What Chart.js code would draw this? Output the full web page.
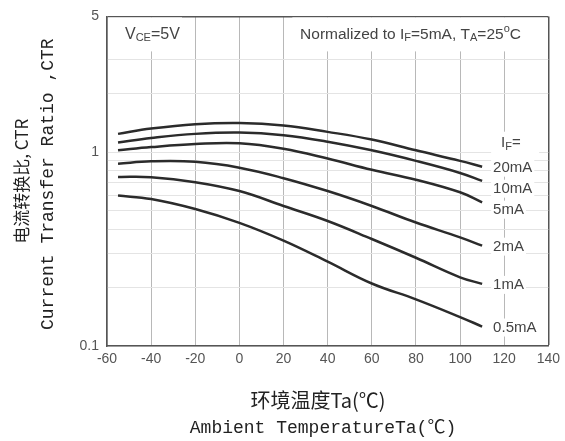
<!DOCTYPE html>
<html>
<head>
<meta charset="utf-8">
<script src="https://cdn.jsdelivr.net/npm/chart.js@4.4.1/dist/chart.umd.min.js"></script>
<style>
  html, body { margin: 0; padding: 0; background: #fff; }
  #wrap { width: 565px; height: 441px; }
</style>
</head>
<body>
<div id="wrap"><canvas id="ctrChart" width="565" height="441"></canvas></div>
<script>
// ambient temperature (°C) where each curve was read
var temps = [-55, -40, -20, 0, 20, 40, 60, 80, 100, 110];

// relative CTR, normalized to IF=5mA, TA=25°C
var ctr20mA  = [1.24, 1.32, 1.39, 1.41, 1.37, 1.27, 1.16, 1.02, 0.90, 0.84];
var ctr10mA  = [1.12, 1.18, 1.24, 1.26, 1.22, 1.13, 1.02, 0.90, 0.78, 0.71];
var ctr5mA   = [1.02, 1.06, 1.10, 1.11, 1.04, 0.925, 0.81, 0.72, 0.62, 0.55];
var ctr2mA   = [0.87, 0.895, 0.89, 0.83, 0.733, 0.629, 0.527, 0.433, 0.363, 0.329];
var ctr1mA   = [0.744, 0.741, 0.699, 0.629, 0.527, 0.441, 0.356, 0.285, 0.226, 0.209];
var ctr05mA  = [0.596, 0.572, 0.508, 0.431, 0.349, 0.272, 0.210, 0.174, 0.141, 0.126];

var seriesNames = ['20mA', '10mA', '5mA', '2mA', '1mA', '0.5mA'];
var seriesValues = [ctr20mA, ctr10mA, ctr5mA, ctr2mA, ctr1mA, ctr05mA];

var xTicks = [-60, -40, -20, 0, 20, 40, 60, 80, 100, 120, 140];
var yTicks = [0.1, 0.2, 0.3, 0.4, 0.5, 0.6, 0.7, 0.8, 0.9, 1, 2, 3, 5];
var yTickLabels = ['0.1', '1', '5'];

var FRAME = '#555';
var SANS = '"Liberation Sans", Arial, sans-serif';

function drawParts(ctx, parts, x, y, size) {
  // parts: [text, 'sub'|'sup'|undefined]
  ctx.textBaseline = 'middle';
  ctx.textAlign = 'left';
  parts.forEach(function(p) {
    var small = p[1] ? Math.round(size * 0.7) : size;
    ctx.font = small + 'px ' + SANS;
    var dy = p[1] === 'sub' ? 4 : p[1] === 'sup' ? -5 : 0;
    ctx.fillText(p[0], x, y + dy);
    x += ctx.measureText(p[0]).width;
  });
  return x;
}

var notes = {
  id: 'notes',
  beforeDatasetsDraw: function(chart) {
    var ctx = chart.ctx, a = chart.chartArea;
    var xs = chart.scales.x;
    ctx.save();
    // white boxes behind the two header notes
    ctx.fillStyle = '#fff';
    ctx.fillRect(a.left + 1, a.top + 1, 74, 34);
    ctx.fillRect(xs.getPixelForValue(24), a.top + 1, a.right - xs.getPixelForValue(24) - 1, 34);
    ctx.fillStyle = '#444';
    drawParts(ctx, [['V'], ['CE', 'sub'], ['=5V']], a.left + 18, a.top + 18, 16);
    drawParts(ctx, [['Normalized to I'], ['F', 'sub'], ['=5mA, T'], ['A', 'sub'], ['=25'], ['o', 'sup'], ['C']],
      xs.getPixelForValue(27.5), a.top + 18, 15.5);

    // curve labels at the right-hand end of each curve
    var lx = xs.getPixelForValue(110) + 11;
    var prev = -100;
    ctx.font = '15px ' + SANS;
    var ends = chart.data.datasets.map(function(ds, i) {
      var pts = chart.getDatasetMeta(i).data;
      var ly = Math.max(pts[pts.length - 1].y + 1, prev + 21);
      prev = ly;
      return ly;
    });
    ctx.fillStyle = '#fff';
    ctx.fillRect(lx - 2, ends[0] - 36, 48, 28);
    ends.forEach(function(ly, i) {
      var w = ctx.measureText(seriesNames[i]).width;
      ctx.fillStyle = '#fff';
      ctx.fillRect(lx - 2, ly - 9, w + 4, 18);
    });
    ctx.fillStyle = '#444';
    drawParts(ctx, [['I'], ['F', 'sub'], ['=']], lx + 8, ends[0] - 25, 15);
    ends.forEach(function(ly, i) {
      ctx.font = '15px ' + SANS;
      ctx.textAlign = 'left';
      ctx.textBaseline = 'middle';
      ctx.fillText(seriesNames[i], lx, ly);
    });
    ctx.restore();
  }
};

var axisTitles = {
  id: 'axisTitles',
  afterDraw: function(chart) {
    var ctx = chart.ctx, a = chart.chartArea;
    ctx.save();
    ctx.fillStyle = '#222';
    ctx.textAlign = 'center';
    ctx.textBaseline = 'middle';
    ctx.font = '20px "Noto Sans CJK SC", sans-serif';
    ctx.fillText('环境温度Ta(℃)', 318, 400);
    ctx.font = '18px "Liberation Mono", "Noto Sans CJK SC", monospace';
    ctx.fillText('Ambient TemperatureTa(℃)', 323, 428);
    ctx.translate(22, (a.top + a.bottom) / 2);
    ctx.rotate(-Math.PI / 2);
    ctx.font = '17px "Noto Sans CJK SC", sans-serif';
    ctx.fillText('电流转换比, CTR', 0, 0);
    ctx.font = '18px "Liberation Mono", "Noto Sans CJK SC", monospace';
    ctx.fillText('Current Transfer Ratio ,CTR', -3, 26);
    ctx.restore();
  }
};

new Chart(document.getElementById('ctrChart'), {
  type: 'line',
  data: {
    datasets: seriesValues.map(function(vals, i) {
      return {
        label: seriesNames[i],
        data: vals.map(function(v, j) { return { x: temps[j], y: v }; }),
        borderColor: '#2b2b2b',
        borderWidth: 2.5,
        pointRadius: 0,
        fill: false,
        tension: 0.4
      };
    })
  },
  options: {
    responsive: false,
    devicePixelRatio: 1,
    animation: false,
    layout: { padding: { top: 14, right: 12, left: 0, bottom: 0 } },
    plugins: { legend: { display: false }, tooltip: { enabled: false } },
    scales: {
      x: {
        type: 'linear',
        min: -60,
        max: 140,
        afterBuildTicks: function(scale) {
          scale.ticks = xTicks.map(function(v) { return { value: v }; });
        },
        afterFit: function(scale) { scale.height = 95; },
        ticks: { color: '#555', font: { size: 14, family: SANS }, padding: 5 },
        grid: {
          drawTicks: false,
          color: function(c) { return c.tick && c.tick.value === 140 ? FRAME : '#b8b8b8'; },
          lineWidth: function(c) { return c.tick && c.tick.value === 140 ? 1.5 : 1; }
        },
        border: { color: FRAME, width: 1.5 }
      },
      y: {
        type: 'logarithmic',
        min: 0.1,
        max: 5,
        afterBuildTicks: function(scale) {
          scale.ticks = yTicks.map(function(v) { return { value: v }; });
        },
        afterFit: function(scale) { scale.width = 107; },
        ticks: {
          color: '#555',
          font: { size: 14, family: SANS },
          padding: 8,
          callback: function(v) {
            var s = String(v);
            return yTickLabels.indexOf(s) >= 0 ? s : '';
          }
        },
        grid: {
          drawTicks: false,
          color: function(c) { return c.tick && c.tick.value === 5 ? FRAME : '#e4e4e4'; },
          lineWidth: function(c) { return c.tick && c.tick.value === 5 ? 1.5 : 1; }
        },
        border: { color: FRAME, width: 1.5 }
      }
    }
  },
  plugins: [notes, axisTitles]
});
</script>
</body>
</html>
